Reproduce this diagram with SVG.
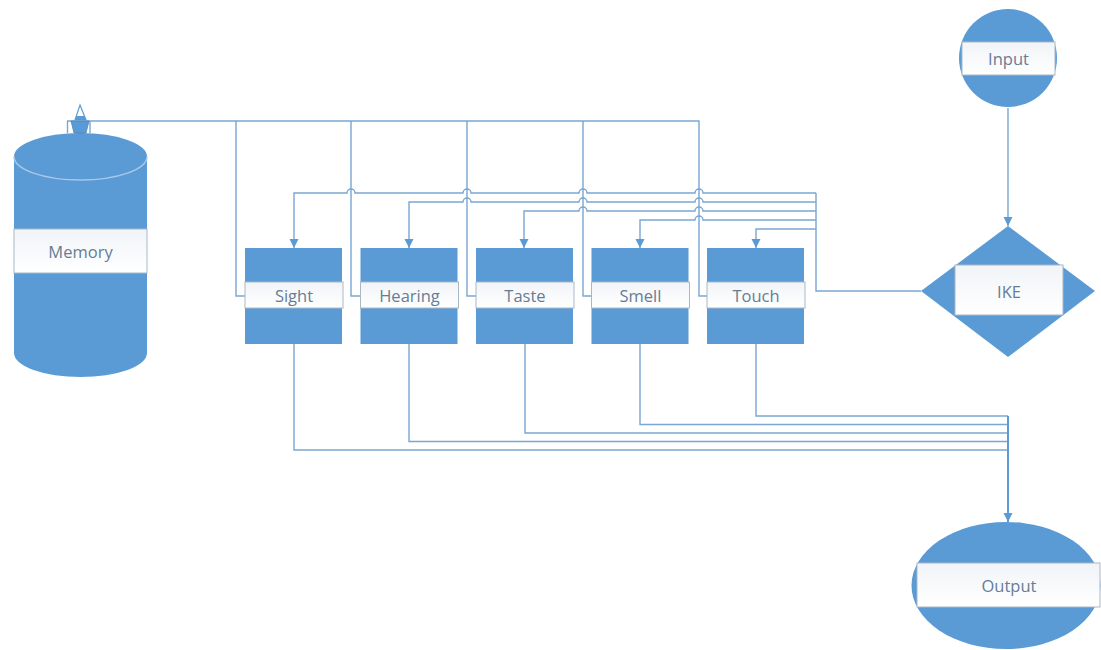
<svg xmlns="http://www.w3.org/2000/svg" width="1101" height="650" viewBox="0 0 1101 650">
  <style>
    .shape { fill: #5b9bd5; }
    .band { fill: url(#bandFill); stroke: #aab8c6; stroke-width: 1; }
    .lbl { font-family: "Open Sans", "Noto Sans", "Liberation Sans", sans-serif; font-size: 16.5px; fill: #667d96; text-anchor: middle; dominant-baseline: central; }
    .wire { fill: none; stroke: #79a6d2; stroke-width: 1.4; }
    .wire-strong { fill: none; stroke: #5b9bd5; stroke-width: 2; }
  </style>
  <defs>
    <linearGradient id="bandFill" x1="0" y1="0" x2="0" y2="1">
      <stop offset="0" stop-color="#f1f4f8"/>
      <stop offset="1" stop-color="#ffffff"/>
    </linearGradient>
    <marker id="arrow" viewBox="0 0 10 10" refX="10" refY="5" markerWidth="9" markerHeight="11" markerUnits="userSpaceOnUse" orient="auto">
      <path d="M0,0 L10,5 L0,10 z" fill="#5b9bd5"/>
    </marker>
  </defs>

  <rect width="1101" height="650" fill="#ffffff"/>

  <!-- connectors -->
  <g id="connectors">
    <!-- memory bus feeding each sense box from the left -->
    <path class="wire" d="M67,121 H699 V296 H707"/>
    <path class="wire" d="M236,121 V296 H245"/>
    <path class="wire" d="M351,121 V296 H360"/>
    <path class="wire" d="M467,121 V296 H476"/>
    <path class="wire" d="M583,121 V296 H591"/>

    <!-- IKE fan-out to the sense boxes, hopping over the memory verticals -->
    <path class="wire" d="M921,291 H816 V193"/>
    <path class="wire" marker-end="url(#arrow)" d="M816,193 H703 a4,4 0 0 0 -8,0 H587 a4,4 0 0 0 -8,0 H471 a4,4 0 0 0 -8,0 H355 a4,4 0 0 0 -8,0 H294 V248"/>
    <path class="wire" marker-end="url(#arrow)" d="M816,202 H703 a4,4 0 0 0 -8,0 H587 a4,4 0 0 0 -8,0 H471 a4,4 0 0 0 -8,0 H409 V248"/>
    <path class="wire" marker-end="url(#arrow)" d="M816,211 H703 a4,4 0 0 0 -8,0 H587 a4,4 0 0 0 -8,0 H524 V248"/>
    <path class="wire" marker-end="url(#arrow)" d="M816,220 H703 a4,4 0 0 0 -8,0 H640 V248"/>
    <path class="wire" marker-end="url(#arrow)" d="M816,229 H756 V248"/>

    <!-- input to IKE -->
    <path class="wire" marker-end="url(#arrow)" d="M1008,108 V226"/>

    <!-- sense boxes to output -->
    <path class="wire" d="M294,344 V450 H1008"/>
    <path class="wire" d="M409,344 V441.5 H1008"/>
    <path class="wire" d="M525,344 V433 H1008"/>
    <path class="wire" d="M640,344 V424.5 H1008"/>
    <path class="wire" d="M756,344 V416 H1008"/>
    <path class="wire-strong" marker-end="url(#arrow)" d="M1008,416 V522"/>
  </g>

  <!-- memory store -->
  <g id="memory">
    <path class="shape" d="M14,156.5 A66.5,23.5 0 0 1 147,156.5 V353 A66.5,24 0 0 1 14,353 Z"/>
    <path d="M14,156.5 A66.5,23.5 0 0 0 147,156.5" fill="none" stroke="#a9c8e8" stroke-width="1.5"/>
    <rect x="14" y="229" width="133" height="44" class="band"/>
    <text x="80.5" y="251" class="lbl">Memory</text>
    <!-- connection port on top -->
    <line x1="67.5" y1="121" x2="67.5" y2="133" stroke="#79a6d2" stroke-width="1.4"/>
    <line x1="90" y1="121" x2="90" y2="133" stroke="#79a6d2" stroke-width="1.4"/>
    <polygon points="71,121 89,121 86,133 74,133" fill="#5b9bd5" stroke="#4a84b8" stroke-width="0.8"/>
    <polygon points="75,120 80,105 86,120" fill="#ffffff" stroke="#5b9bd5" stroke-width="1.2"/>
    <polygon points="76.5,116 84.5,116 86,120 75,120" fill="#5b9bd5"/>
  </g>

  <!-- sense boxes -->
  <g id="sight">
    <rect x="245" y="248" width="97" height="96" class="shape"/>
    <rect x="245" y="282" width="98" height="26" class="band"/>
    <text x="294" y="295" class="lbl">Sight</text>
  </g>
  <g id="hearing">
    <rect x="360.5" y="248" width="97" height="96" class="shape"/>
    <rect x="360.5" y="282" width="98" height="26" class="band"/>
    <text x="409.5" y="295" class="lbl">Hearing</text>
  </g>
  <g id="taste">
    <rect x="476" y="248" width="97" height="96" class="shape"/>
    <rect x="476" y="282" width="98" height="26" class="band"/>
    <text x="525" y="295" class="lbl">Taste</text>
  </g>
  <g id="smell">
    <rect x="591.5" y="248" width="97" height="96" class="shape"/>
    <rect x="591.5" y="282" width="98" height="26" class="band"/>
    <text x="640.5" y="295" class="lbl">Smell</text>
  </g>
  <g id="touch">
    <rect x="707" y="248" width="97" height="96" class="shape"/>
    <rect x="707" y="282" width="98" height="26" class="band"/>
    <text x="756" y="295" class="lbl">Touch</text>
  </g>

  <!-- input -->
  <g id="input">
    <circle cx="1008" cy="58" r="49" class="shape"/>
    <rect x="962" y="42" width="93" height="33" class="band"/>
    <text x="1008.5" y="58.5" class="lbl">Input</text>
  </g>

  <!-- IKE decision -->
  <g id="ike">
    <polygon points="1008,226 1095,291 1008,357 921,291" class="shape"/>
    <rect x="955" y="265" width="108" height="50" class="band"/>
    <text x="1009" y="291" class="lbl">IKE</text>
  </g>

  <!-- output -->
  <g id="output">
    <ellipse cx="1006" cy="585.5" rx="94.5" ry="63.5" class="shape"/>
    <rect x="917" y="563" width="183" height="44" class="band"/>
    <text x="1009" y="585.5" class="lbl">Output</text>
  </g>
</svg>
